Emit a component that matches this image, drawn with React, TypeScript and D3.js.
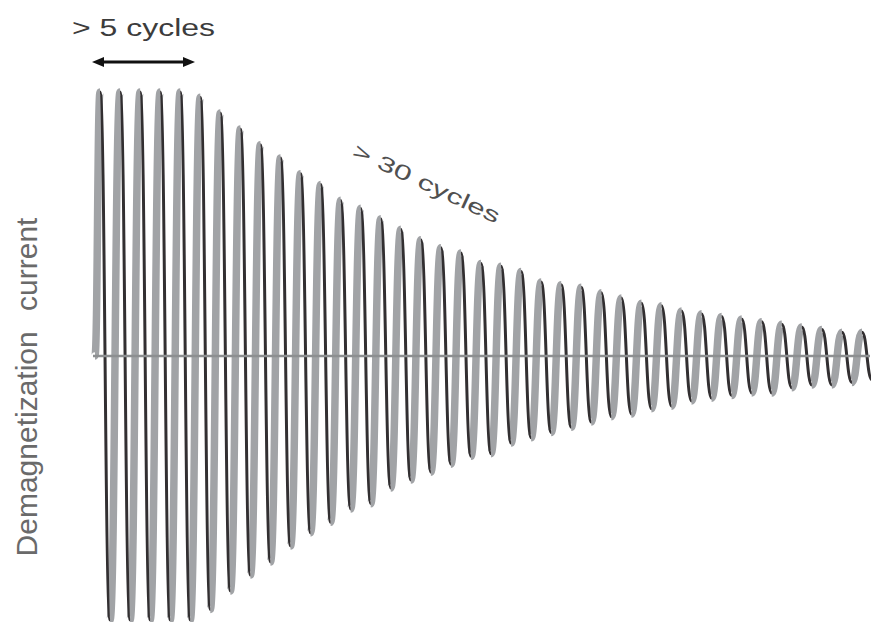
import React, { useEffect, useRef } from 'react';
import * as d3 from 'd3';

// peak heights per cycle, % of the first peak
const peaks = [100, 100, 100, 100, 100, 98, 92, 86, 80, 75, 69, 65, 59, 56, 52, 48, 44, 41, 39, 35,
  34, 32, 28, 27, 26, 24, 22, 20, 19, 17, 16, 15, 14, 13, 12, 11, 10, 9, 9];
// trough depths per cycle, same units
const troughs = [100, 100, 100, 100, 100, 96, 89, 83, 78, 72, 67, 63, 58, 56, 50, 47, 44, 41, 38, 37,
  33, 31, 29, 27, 25, 23, 22, 20, 19, 17, 16, 15, 14, 14, 12, 11, 11, 10, 9];

const yLabel = ['Demagnetization', 'current'];
const shortNote = '> 5 cycles';
const longNote = '> 30 cycles';

const width = 871;
const height = 622;
const font = '"Liberation Sans", Arial, sans-serif';

function App() {
  const svgRef = useRef<SVGSVGElement>(null);

  useEffect(() => {
    const svg = d3.select(svgRef.current);
    svg.selectAll('*').remove();

    // time in cycles -> x, current in % -> y
    const x = d3.scaleLinear().domain([0, 38.75]).range([95, 872]);
    const y = d3.scaleLinear().domain([-100, 100]).range([620, 92]);

    const pts: [number, number][] = [[0, 0]];
    peaks.forEach((p, k) => {
      pts.push([k + 0.25, p]);
      pts.push([k + 0.75, -troughs[k]]);
    });

    const seg = d3
      .line<[number, number]>()
      .x((d) => x(d[0]))
      .y((d) => y(d[1]))
      .curve(d3.curveBumpX);

    const wave = svg.append('g');
    // rising edges grey and wide, falling edges thin and dark
    for (let i = 0; i < pts.length - 1; i++) {
      const rising = pts[i + 1][1] > pts[i][1];
      if (!rising) continue;
      wave
        .append('path')
        .attr('d', seg([pts[i], pts[i + 1]]))
        .attr('fill', 'none')
        .attr('stroke', '#a1a3a6')
        .attr('stroke-width', 7.5);
    }
    for (let i = 0; i < pts.length - 1; i++) {
      const rising = pts[i + 1][1] > pts[i][1];
      if (rising) continue;
      wave
        .append('path')
        .attr('d', seg([pts[i], pts[i + 1]]))
        .attr('fill', 'none')
        .attr('stroke', '#322f31')
        .attr('stroke-width', 3);
    }

    // zero line
    svg
      .append('line')
      .attr('x1', 93)
      .attr('x2', 870)
      .attr('y1', y(0))
      .attr('y2', y(0))
      .attr('stroke', '#8d8f91')
      .attr('stroke-width', 2.5);

    // y label
    const yl = svg
      .append('text')
      .attr('transform', `translate(37, 387) rotate(-90)`)
      .attr('text-anchor', 'middle')
      .attr('font-family', font)
      .attr('font-size', 30)
      .attr('fill', '#6a6a6a');
    yl.append('tspan').text(yLabel[0]);
    yl.append('tspan').attr('dx', 12).text(' ' + yLabel[1]);

    // "> 5 cycles" with arrow
    svg
      .append('text')
      .attr('x', 72)
      .attr('y', 36)
      .attr('font-family', font)
      .attr('font-size', 23)
      .attr('textLength', 143)
      .attr('lengthAdjust', 'spacingAndGlyphs')
      .attr('fill', '#3c3c3c')
      .text(shortNote);

    const ay = 62;
    svg
      .append('line')
      .attr('x1', 98)
      .attr('x2', 189)
      .attr('y1', ay)
      .attr('y2', ay)
      .attr('stroke', '#111')
      .attr('stroke-width', 3);
    svg
      .append('path')
      .attr('d', `M92,${ay} L104,${ay - 5} L104,${ay + 5} Z`)
      .attr('fill', '#111');
    svg
      .append('path')
      .attr('d', `M195,${ay} L183,${ay - 5} L183,${ay + 5} Z`)
      .attr('fill', '#111');

    // "> 30 cycles" along the envelope
    svg
      .append('text')
      .attr('transform', 'translate(351, 156) rotate(25)')
      .attr('font-family', font)
      .attr('font-size', 21)
      .attr('textLength', 160)
      .attr('lengthAdjust', 'spacingAndGlyphs')
      .attr('fill', '#505050')
      .text(longNote);
  }, []);

  return (
    <svg
      ref={svgRef}
      width={width}
      height={height}
      style={{ position: 'absolute', left: 0, top: 0, background: '#fff' }}
    />
  );
}

export default App;
